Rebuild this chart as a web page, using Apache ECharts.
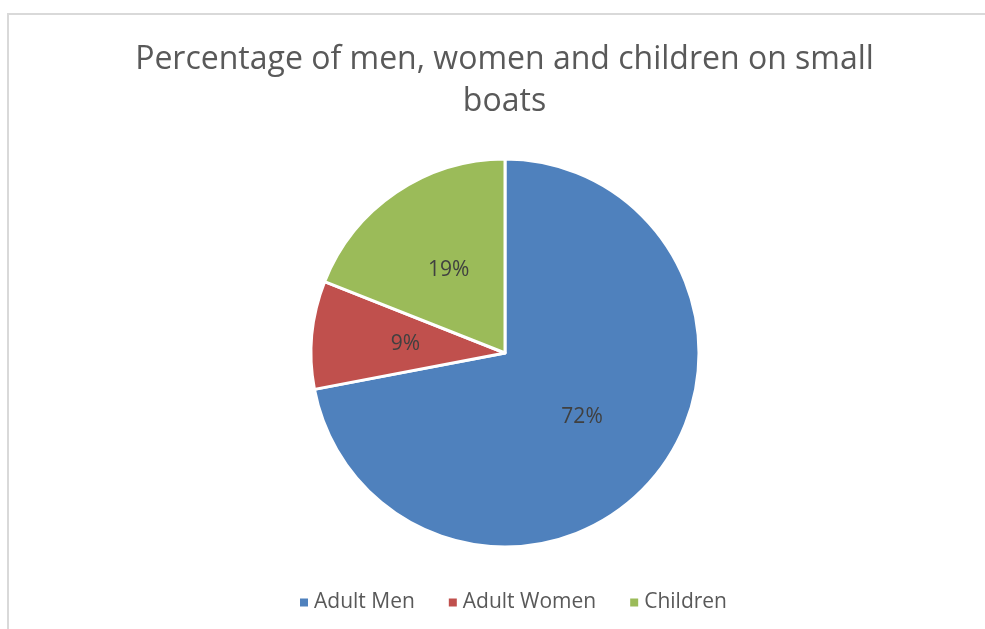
<!DOCTYPE html>
<html>
<head>
<meta charset="utf-8">
<script src="https://cdn.jsdelivr.net/npm/echarts@6/dist/echarts.min.js"></script>
<style>
  html, body { margin: 0; padding: 0; background: #fff; overflow: hidden; }
  #frame { position: absolute; left: 7px; top: 13px; width: 1000px; height: 700px;
           border-left: 2px solid #d9d9d9; border-top: 2px solid #d9d9d9; }
  #main { position: absolute; left: 12px; top: 0; width: 985px; height: 629px; }
</style>
</head>
<body>
<div id="frame"></div>
<div id="main"></div>
<script>
// data
const categories = ['Adult Men', 'Adult Women', 'Children'];
const values = [72, 9, 19];
const colorList = ['#4F81BD', '#C0504D', '#9BBB59'];

const fontFamily = '"Open Sans", "Noto Sans", sans-serif';

let myChart = echarts.init(document.getElementById('main'));
myChart.setOption({
    title: {
        text: 'Percentage of men, women and children on small\nboats',
        left: 'center',
        top: 34,
        textStyle: {
            color: '#595959',
            fontFamily: fontFamily,
            fontWeight: 'normal',
            fontSize: 32,
            lineHeight: 42
        }
    },
    legend: {
        top: 587,
        left: 281,
        icon: 'rect',
        itemWidth: 10,
        itemHeight: 10,
        itemGap: 32,
        textStyle: { color: '#595959', fontFamily: fontFamily, fontSize: 21 },
        data: categories
    },
    series: [{
        type: 'pie',
        center: [493, 353],
        radius: 194,
        startAngle: 90,
        clockwise: true,
        animation: false,
        itemStyle: { borderColor: '#fff', borderWidth: 3 },
        label: {
            show: true,
            position: 'inside',
            formatter: '{d}%',
            color: '#404040',
            fontFamily: fontFamily,
            fontSize: 21
        },
        labelLine: { show: false },
        data: categories.map((c, i) => ({ name: c, value: values[i], itemStyle: { color: colorList[i] } }))
    }]
});
</script>
</body>
</html>
